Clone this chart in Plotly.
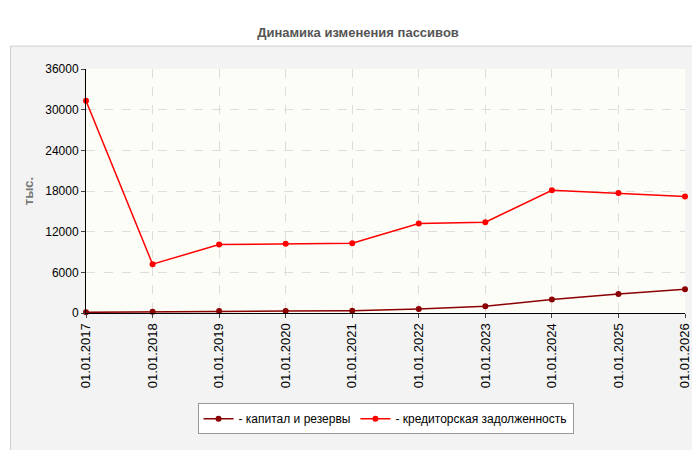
import plotly.graph_objects as go

dates = ["01.01.2017","01.01.2018","01.01.2019","01.01.2020","01.01.2021","01.01.2022","01.01.2023","01.01.2024","01.01.2025","01.01.2026"]
capital = [100, 200, 300, 300, 350, 600, 1000, 2000, 2800, 3500]
credit = [31300, 7200, 10100, 10200, 10300, 13200, 13400, 18100, 17700, 17200]
yticks = [0, 6000, 12000, 18000, 24000, 30000, 36000]

fig = go.Figure()
fig.add_trace(go.Scatter(x=dates, y=capital, mode="lines+markers", name="- капитал и резервы",
                         line=dict(color="#8b0000", width=1.5), marker=dict(size=6, color="#8b0000"), cliponaxis=False))
fig.add_trace(go.Scatter(x=dates, y=credit, mode="lines+markers", name="- кредиторская задолженность",
                         line=dict(color="#ff0000", width=1.5), marker=dict(size=6, color="#ff0000"), cliponaxis=False))

fig.add_shape(type="rect", xref="paper", yref="paper", x0=-0.126, x1=1.033, y0=-0.582, y1=1.094,
              fillcolor="#f3f3f3", line=dict(color="#d0d0d0", width=1), layer="below")
fig.add_shape(type="rect", xref="x domain", yref="y domain", x0=0, x1=1, y0=0, y1=1,
              fillcolor="#fdfdf8", line=dict(width=0), layer="below")

fig.update_layout(
    width=700, height=450,
    margin=dict(l=78, r=23, t=61, b=145, autoexpand=False),
    paper_bgcolor="white", plot_bgcolor="rgba(0,0,0,0)",
    font=dict(family="Liberation Sans, Arial", size=12, color="#000"),
    title=dict(text="<b>Динамика изменения пассивов</b>", x=0.5, y=0.955, xanchor="center",
               font=dict(size=13, color="#555")),
    showlegend=True,
    legend=dict(orientation="h", x=0.5, xanchor="center", y=-0.37, yanchor="top",
                bordercolor="#999", borderwidth=1, bgcolor="white", font=dict(size=12)),
    xaxis=dict(type="category", tickangle=-90, showgrid=True, gridcolor="#ddd", griddash="dash",
               showline=True, linecolor="#000", ticks="outside", ticklen=4, range=[0, 9],
               tickfont=dict(size=13), automargin=False),
    yaxis=dict(range=[0, 36000], tickvals=yticks, tickformat="d", showgrid=True, gridcolor="#ddd", griddash="dash",
               showline=True, linecolor="#000", ticks="outside", ticklen=4, zeroline=False, automargin=False,
               tickfont=dict(size=12),
               title=dict(text="<b>тыс.</b>", font=dict(size=13, color="#777"), standoff=8)),
)
fig.write_html("out.html")
